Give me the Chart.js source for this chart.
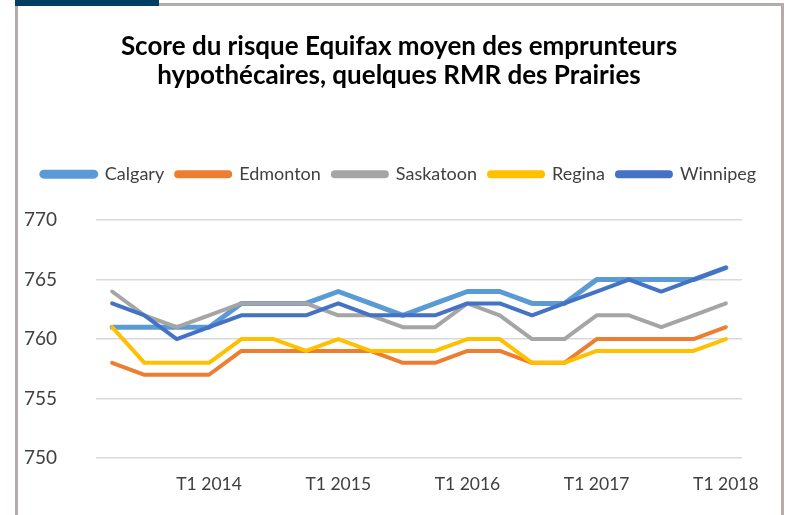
<!DOCTYPE html>
<html>
<head>
<meta charset="utf-8">
<script src="https://cdn.jsdelivr.net/npm/chart.js@4"></script>
<style>
    body { margin: 0; background: #fff; }
    #topBar { position: absolute; left: 15px; top: 0; width: 144px; height: 6px; background: #003e63; }
    #frame { position: absolute; left: 15px; top: 3px; width: 763px; height: 530px;
             border: 3px solid #b5abab; border-bottom: none; }
    #wrap { position: absolute; left: 18px; top: 6px; width: 762px; height: 509px; }
</style>
</head>
<body>
<div id="frame"></div>
<div id="topBar"></div>
<div id="wrap"><canvas id="chart"></canvas></div>
<script>
// quarters from T2 2013 to T1 2018
const quarters = [
    "T2 2013", "T3 2013", "T4 2013",
    "T1 2014", "T2 2014", "T3 2014", "T4 2014",
    "T1 2015", "T2 2015", "T3 2015", "T4 2015",
    "T1 2016", "T2 2016", "T3 2016", "T4 2016",
    "T1 2017", "T2 2017", "T3 2017", "T4 2017",
    "T1 2018"
];

const calgary   = [761, 761, 761, 761, 763, 763, 763, 764, 763, 762, 763, 764, 764, 763, 763, 765, 765, 765, 765, 766];
const edmonton  = [758, 757, 757, 757, 759, 759, 759, 759, 759, 758, 758, 759, 759, 758, 758, 760, 760, 760, 760, 761];
const saskatoon = [764, 762, 761, 762, 763, 763, 763, 762, 762, 761, 761, 763, 762, 760, 760, 762, 762, 761, 762, 763];
const regina    = [761, 758, 758, 758, 760, 760, 759, 760, 759, 759, 759, 760, 760, 758, 758, 759, 759, 759, 759, 760];
const winnipeg  = [763, 762, 760, 761, 762, 762, 762, 763, 762, 762, 762, 763, 763, 762, 763, 764, 765, 764, 765, 766];

const yTicks = [750, 755, 760, 765, 770];

const fontFamily = "Lato, 'Open Sans', sans-serif";
const textColor = '#404040';

const makeSeries = (label, data, color, width, order) => ({
    label: label,
    data: data,
    borderColor: color,
    backgroundColor: color,
    borderWidth: width,
    pointRadius: 0,
    tension: 0,
    borderCapStyle: 'round',
    borderJoinStyle: 'round',
    order: order
});

// extra room between legend and plot
const legendSpacer = {
    id: 'legendSpacer',
    beforeInit(chart) {
        const fit = chart.legend.fit;
        chart.legend.fit = function () {
            fit.bind(chart.legend)();
            this.height += 27;
        };
    }
};

new Chart(document.getElementById('chart'), {
    type: 'line',
    data: {
        labels: quarters,
        datasets: [
            makeSeries('Calgary', calgary, '#5b9bd5', 5, 5),
            makeSeries('Edmonton', edmonton, '#ed7d31', 4, 4),
            makeSeries('Saskatoon', saskatoon, '#a5a5a5', 4, 3),
            makeSeries('Regina', regina, '#ffc000', 4, 2),
            makeSeries('Winnipeg', winnipeg, '#4472c4', 4, 1)
        ]
    },
    plugins: [legendSpacer],
    options: {
        responsive: true,
        maintainAspectRatio: false,
        animation: false,
        layout: { padding: { left: 0, right: 0, top: 0, bottom: 12 } },
        plugins: {
            title: {
                display: true,
                text: ['Score du risque Equifax moyen des emprunteurs', 'hypothécaires, quelques RMR des Prairies'],
                color: '#000',
                font: { family: fontFamily, size: 26, weight: 'bold', lineHeight: 1.08 },
                padding: { top: 27, bottom: 64 }
            },
            legend: {
                position: 'top',
                labels: {
                    color: textColor,
                    font: { family: fontFamily, size: 18 },
                    boxWidth: 54,
                    boxHeight: 4,
                    useBorderRadius: true,
                    borderRadius: 2,
                    padding: 12,
                    sort: (a, b) => a.datasetIndex - b.datasetIndex
                }
            },
            tooltip: { enabled: false }
        },
        scales: {
            x: {
                offset: true,
                grid: { display: false },
                border: { display: false },
                afterFit: (axis) => { axis.paddingLeft = 0; axis.paddingRight = 0; },
                ticks: {
                    color: textColor,
                    font: { family: fontFamily, size: 17.5 },
                    autoSkip: false,
                    maxRotation: 0,
                    padding: 8,
                    callback: function (value, index) {
                        return index % 4 === 3 ? quarters[index] : '';
                    }
                }
            },
            y: {
                min: yTicks[0],
                max: yTicks[yTicks.length - 1],
                afterBuildTicks: (axis) => { axis.ticks = yTicks.map(v => ({ value: v })); },
                afterFit: (axis) => { axis.width = 78; },
                grid: { color: '#d9d9d9', lineWidth: 1.5, drawTicks: false },
                border: { display: false },
                ticks: {
                    color: textColor,
                    font: { family: fontFamily, size: 19 },
                    padding: 39
                }
            },
            // empty right axis, only keeps space at the right of the plot
            yRight: {
                position: 'right',
                min: yTicks[0],
                max: yTicks[yTicks.length - 1],
                grid: { display: false },
                border: { display: false },
                ticks: { display: false },
                afterFit: (axis) => { axis.width = 38; }
            }
        }
    }
});
</script>
</body>
</html>
